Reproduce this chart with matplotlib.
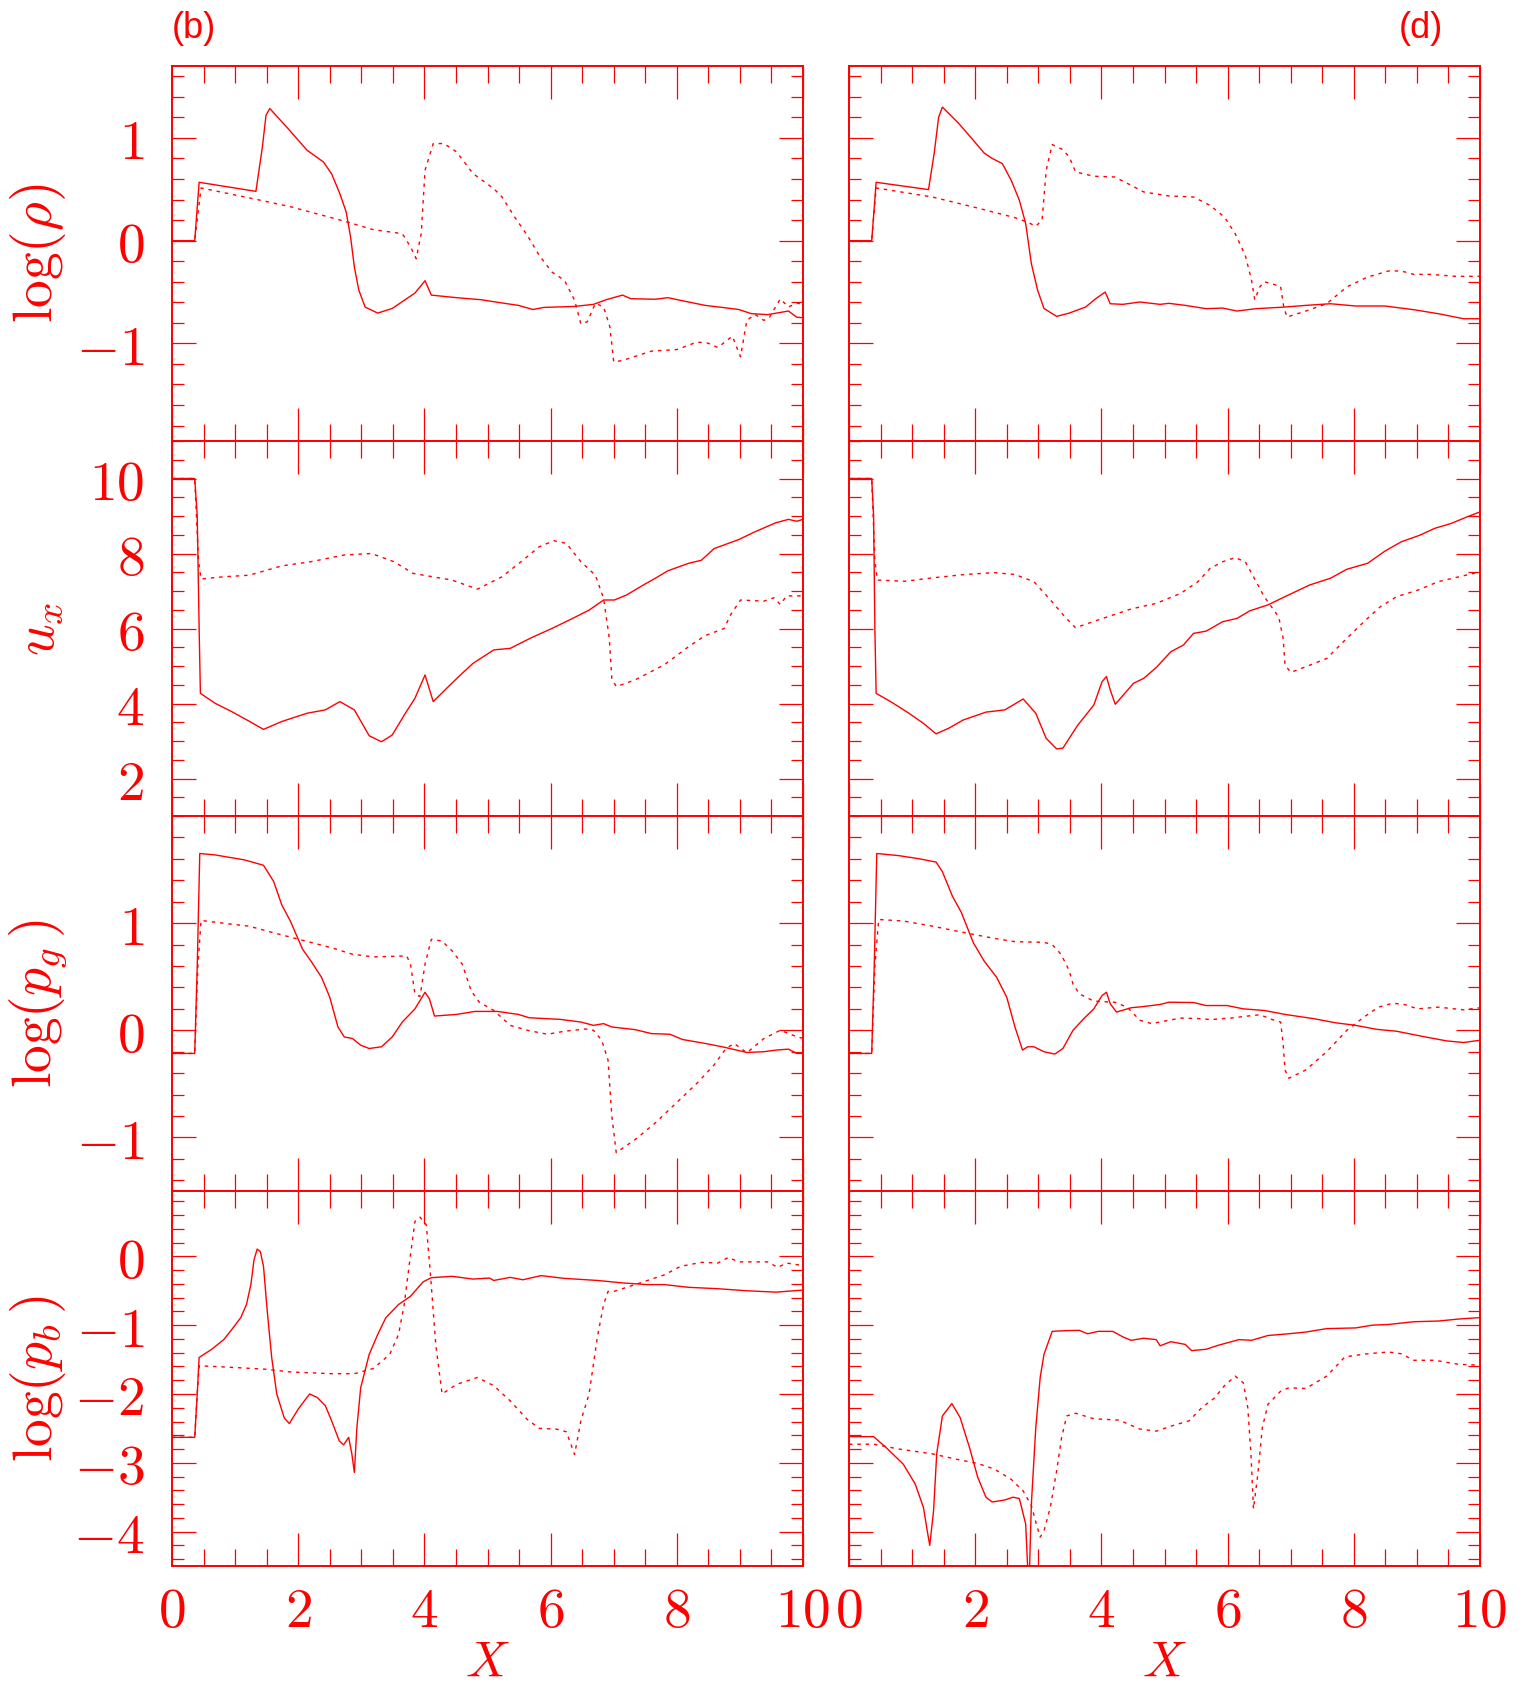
import matplotlib
matplotlib.use("Agg")
import matplotlib.pyplot as plt
from matplotlib.ticker import FixedLocator, MultipleLocator, FuncFormatter

plt.rcParams['mathtext.fontset'] = 'cm'
plt.rcParams['font.family'] = ['DejaVu Serif']

RED = '#ff0000'

# ---------------- data (x, value) pairs ----------------
# Row 1: log(rho)
rho_b_solid = [(0,0),(0.36,0),(0.43,0.568),(1.33,0.48),(1.43,0.9),(1.49,1.22),(1.55,1.286),(1.84,1.09),(2.14,0.88),(2.40,0.766),(2.53,0.65),(2.66,0.458),(2.76,0.28),(2.83,0.036),(2.89,-0.256),(2.96,-0.48),(3.06,-0.646),(3.26,-0.705),(3.49,-0.66),(3.85,-0.51),(4.01,-0.39),(4.11,-0.53),(4.51,-0.555),(4.90,-0.575),(5.16,-0.60),(5.49,-0.63),(5.72,-0.67),(5.89,-0.65),(6.38,-0.64),(6.68,-0.62),(6.88,-0.575),(7.14,-0.53),(7.27,-0.565),(7.66,-0.57),(7.86,-0.555),(8.05,-0.58),(8.45,-0.63),(8.72,-0.65),(8.98,-0.67),(9.18,-0.71),(9.44,-0.72),(9.77,-0.685),(9.90,-0.745),(10.0,-0.75)]
rho_b_dot = [(0,0),(0.36,0),(0.46,0.513),(1.35,0.40),(1.88,0.33),(2.73,0.19),(3.19,0.107),(3.65,0.068),(3.78,-0.06),(3.87,-0.175),(3.95,0.07),(4.01,0.685),(4.14,0.945),(4.31,0.945),(4.51,0.864),(4.77,0.653),(5.10,0.506),(5.23,0.425),(5.43,0.23),(5.63,0.052),(5.82,-0.143),(6.02,-0.305),(6.22,-0.386),(6.38,-0.58),(6.48,-0.81),(6.58,-0.79),(6.71,-0.61),(6.84,-0.645),(6.94,-0.84),(7.0,-1.18),(7.14,-1.166),(7.6,-1.075),(8.0,-1.06),(8.32,-0.987),(8.49,-0.997),(8.65,-1.04),(8.88,-0.93),(9.01,-1.13),(9.11,-0.776),(9.24,-0.718),(9.38,-0.776),(9.47,-0.744),(9.64,-0.568),(9.77,-0.646),(9.9,-0.607),(10.0,-0.62)]
rho_d_solid = [(0,0),(0.36,0),(0.43,0.568),(1.26,0.497),(1.35,0.85),(1.42,1.2),(1.48,1.30),(1.74,1.14),(1.97,0.977),(2.14,0.854),(2.27,0.80),(2.43,0.75),(2.57,0.588),(2.70,0.393),(2.80,0.166),(2.89,-0.224),(2.99,-0.484),(3.09,-0.66),(3.29,-0.737),(3.49,-0.705),(3.75,-0.646),(3.91,-0.565),(4.06,-0.50),(4.14,-0.614),(4.34,-0.62),(4.61,-0.597),(4.93,-0.62),(5.07,-0.61),(5.33,-0.63),(5.66,-0.662),(5.92,-0.656),(6.15,-0.685),(6.45,-0.662),(6.91,-0.646),(7.24,-0.63),(7.63,-0.614),(8.03,-0.636),(8.49,-0.636),(8.95,-0.672),(9.34,-0.711),(9.74,-0.76),(10.0,-0.76)]
rho_d_dot = [(0,0),(0.36,0),(0.43,0.513),(1.32,0.425),(1.97,0.328),(2.63,0.224),(2.83,0.18),(2.96,0.14),(3.06,0.2),(3.125,0.685),(3.22,0.935),(3.39,0.886),(3.49,0.815),(3.59,0.669),(3.88,0.627),(4.21,0.62),(4.47,0.539),(4.67,0.474),(5.07,0.435),(5.46,0.425),(5.72,0.344),(5.95,0.23),(6.12,0.068),(6.28,-0.143),(6.38,-0.386),(6.43,-0.575),(6.51,-0.45),(6.58,-0.40),(6.84,-0.445),(6.89,-0.646),(6.94,-0.743),(7.24,-0.685),(7.57,-0.614),(7.89,-0.45),(8.22,-0.354),(8.55,-0.295),(8.75,-0.295),(8.95,-0.328),(9.21,-0.328),(9.61,-0.347),(10.0,-0.347)]

# Row 2: u_x
ux_b_solid = [(0,10),(0.36,10),(0.40,9.0),(0.43,6.0),(0.45,4.27),(0.69,4.0),(0.95,3.78),(1.22,3.53),(1.45,3.31),(1.74,3.52),(2.14,3.74),(2.43,3.83),(2.66,4.05),(2.89,3.83),(3.125,3.14),(3.32,2.98),(3.49,3.16),(3.68,3.69),(3.85,4.14),(4.01,4.76),(4.14,4.05),(4.38,4.45),(4.57,4.76),(4.77,5.07),(5.10,5.43),(5.36,5.47),(5.69,5.75),(6.02,6.0),(6.35,6.27),(6.61,6.49),(6.84,6.76),(7.01,6.76),(7.2,6.89),(7.47,7.16),(7.66,7.34),(7.86,7.54),(8.19,7.74),(8.39,7.82),(8.59,8.13),(8.98,8.37),(9.24,8.58),(9.57,8.82),(9.77,8.91),(9.9,8.86),(10.0,8.91)]
ux_b_dot = [(0,10),(0.36,10),(0.42,7.8),(0.46,7.32),(0.82,7.38),(1.22,7.42),(1.74,7.67),(2.2,7.78),(2.73,7.96),(3.16,8.0),(3.52,7.78),(3.82,7.47),(4.44,7.29),(4.84,7.05),(5.23,7.38),(5.56,7.82),(5.82,8.18),(6.05,8.34),(6.25,8.27),(6.48,7.78),(6.71,7.42),(6.84,6.8),(6.93,5.74),(6.97,4.67),(7.04,4.45),(7.34,4.63),(7.8,5.03),(8.19,5.52),(8.45,5.81),(8.75,6.0),(8.85,6.36),(9.01,6.76),(9.38,6.73),(9.54,6.82),(9.64,6.64),(9.74,6.87),(10.0,6.87)]
ux_d_solid = [(0,10),(0.36,10),(0.39,9.0),(0.41,6.0),(0.43,4.27),(0.66,4.05),(0.95,3.74),(1.18,3.47),(1.38,3.19),(1.58,3.34),(1.81,3.56),(2.17,3.77),(2.47,3.83),(2.76,4.12),(2.96,3.74),(3.125,3.07),(3.29,2.79),(3.39,2.81),(3.62,3.41),(3.88,3.96),(4.01,4.58),(4.08,4.72),(4.14,4.36),(4.22,3.98),(4.51,4.54),(4.67,4.67),(4.87,4.96),(5.1,5.38),(5.3,5.56),(5.46,5.87),(5.66,5.93),(5.92,6.18),(6.15,6.27),(6.35,6.47),(6.64,6.63),(6.91,6.85),(7.3,7.16),(7.63,7.34),(7.89,7.58),(8.22,7.74),(8.49,8.06),(8.75,8.31),(9.05,8.49),(9.28,8.67),(9.54,8.8),(9.8,8.98),(10.0,9.11)]
ux_d_dot = [(0,10),(0.36,10),(0.41,7.8),(0.45,7.29),(0.89,7.26),(1.32,7.35),(1.84,7.44),(2.3,7.49),(2.63,7.44),(2.93,7.25),(3.22,6.71),(3.42,6.31),(3.59,6.02),(3.95,6.23),(4.47,6.52),(4.87,6.67),(5.26,6.94),(5.53,7.25),(5.72,7.6),(5.92,7.78),(6.12,7.89),(6.28,7.78),(6.41,7.38),(6.58,6.85),(6.81,6.31),(6.88,5.74),(6.91,5.03),(7.0,4.83),(7.24,4.98),(7.57,5.2),(7.89,5.74),(8.16,6.18),(8.42,6.58),(8.68,6.85),(9.01,7.02),(9.34,7.25),(9.67,7.38),(10.0,7.51)]

# Row 3: log(p_g)
pg_b_solid = [(0,-0.216),(0.36,-0.216),(0.40,0.6),(0.44,1.65),(0.69,1.636),(1.15,1.59),(1.45,1.54),(1.61,1.39),(1.74,1.17),(1.875,1.02),(2.07,0.756),(2.2,0.648),(2.37,0.494),(2.5,0.309),(2.63,0.031),(2.73,-0.062),(2.86,-0.077),(2.99,-0.139),(3.125,-0.17),(3.32,-0.154),(3.49,-0.062),(3.65,0.077),(3.85,0.2),(4.01,0.355),(4.08,0.293),(4.16,0.133),(4.51,0.148),(4.8,0.176),(5.16,0.176),(5.49,0.148),(5.66,0.117),(6.15,0.102),(6.48,0.077),(6.68,0.046),(6.84,0.062),(6.97,0.031),(7.34,0.006),(7.6,-0.031),(7.89,-0.037),(8.09,-0.086),(8.45,-0.123),(8.72,-0.154),(9.11,-0.207),(9.38,-0.2),(9.57,-0.185),(9.77,-0.176),(9.9,-0.216),(10.0,-0.216)]
pg_b_dot = [(0,-0.216),(0.36,-0.216),(0.41,0.6),(0.46,1.025),(0.89,0.994),(1.22,0.972),(1.61,0.91),(2.07,0.84),(2.53,0.77),(2.86,0.71),(3.19,0.685),(3.72,0.694),(3.78,0.617),(3.85,0.34),(3.93,0.315),(4.01,0.617),(4.11,0.849),(4.28,0.833),(4.44,0.74),(4.6,0.617),(4.74,0.37),(4.87,0.262),(5.1,0.185),(5.36,0.046),(5.63,0.0),(5.95,-0.037),(6.22,-0.009),(6.55,0.012),(6.68,0.0),(6.81,-0.093),(6.91,-0.278),(6.97,-0.8),(7.04,-1.142),(7.34,-1.02),(7.66,-0.864),(7.99,-0.679),(8.32,-0.494),(8.59,-0.324),(8.78,-0.17),(8.91,-0.123),(9.11,-0.21),(9.38,-0.077),(9.64,0.0),(9.84,-0.046),(10.0,-0.077)]
pg_d_solid = [(0,-0.216),(0.36,-0.216),(0.40,0.6),(0.44,1.65),(0.79,1.63),(1.12,1.6),(1.38,1.57),(1.48,1.48),(1.64,1.25),(1.78,1.1),(1.97,0.818),(2.14,0.648),(2.34,0.494),(2.5,0.309),(2.63,0.031),(2.75,-0.185),(2.83,-0.154),(2.93,-0.154),(3.09,-0.2),(3.26,-0.222),(3.39,-0.17),(3.55,0.0),(3.72,0.108),(3.88,0.2),(4.01,0.324),(4.08,0.355),(4.14,0.247),(4.24,0.17),(4.47,0.21),(4.67,0.222),(4.93,0.241),(5.07,0.262),(5.46,0.259),(5.66,0.231),(5.99,0.231),(6.25,0.2),(6.58,0.185),(6.91,0.148),(7.37,0.108),(7.7,0.071),(8.03,0.046),(8.36,0.009),(8.68,-0.009),(9.08,-0.056),(9.47,-0.099),(9.74,-0.114),(10.0,-0.093)]
pg_d_dot = [(0,-0.216),(0.36,-0.216),(0.41,0.6),(0.47,1.034),(0.86,1.02),(1.32,0.972),(1.84,0.91),(2.3,0.858),(2.63,0.827),(3.09,0.821),(3.22,0.8),(3.36,0.71),(3.49,0.556),(3.55,0.432),(3.65,0.34),(3.88,0.272),(4.21,0.262),(4.41,0.216),(4.61,0.093),(4.8,0.062),(5.0,0.086),(5.26,0.114),(5.59,0.108),(5.72,0.1),(6.05,0.114),(6.32,0.133),(6.51,0.145),(6.71,0.1),(6.84,0.077),(6.88,-0.123),(6.91,-0.37),(6.97,-0.448),(7.24,-0.37),(7.57,-0.2),(7.89,0.0),(8.16,0.123),(8.39,0.216),(8.62,0.253),(8.82,0.238),(9.01,0.2),(9.34,0.216),(9.74,0.191),(10.0,0.21)]

# Row 4: log(p_b)
pb_b_solid = [(0,-2.63),(0.36,-2.63),(0.40,-2.0),(0.43,-1.47),(0.63,-1.35),(0.82,-1.21),(0.95,-1.06),(1.09,-0.89),(1.18,-0.70),(1.25,-0.41),(1.3,-0.05),(1.35,0.106),(1.4,0.07),(1.45,-0.145),(1.51,-0.8),(1.58,-1.47),(1.66,-2.0),(1.78,-2.35),(1.86,-2.43),(2.0,-2.22),(2.18,-2.0),(2.3,-2.05),(2.43,-2.17),(2.53,-2.39),(2.65,-2.68),(2.72,-2.74),(2.8,-2.63),(2.85,-2.87),(2.89,-3.14),(2.93,-2.49),(2.99,-1.91),(3.125,-1.425),(3.26,-1.135),(3.39,-0.89),(3.59,-0.70),(3.78,-0.58),(3.98,-0.37),(4.11,-0.31),(4.44,-0.29),(4.77,-0.33),(5.03,-0.315),(5.1,-0.35),(5.36,-0.305),(5.56,-0.34),(5.85,-0.28),(6.22,-0.32),(6.74,-0.35),(7.14,-0.386),(7.53,-0.41),(7.8,-0.41),(8.19,-0.45),(8.65,-0.47),(9.11,-0.50),(9.57,-0.52),(10.0,-0.49)]
pb_b_dot = [(0,-2.63),(0.36,-2.63),(0.40,-2.0),(0.43,-1.59),(0.89,-1.61),(1.48,-1.64),(1.875,-1.68),(2.53,-1.705),(2.89,-1.705),(3.19,-1.63),(3.45,-1.425),(3.59,-1.135),(3.68,-0.70),(3.78,0.024),(3.85,0.507),(3.93,0.57),(4.03,0.46),(4.1,-0.31),(4.18,-1.28),(4.28,-2.0),(4.51,-1.86),(4.84,-1.76),(5.1,-1.88),(5.36,-2.1),(5.63,-2.37),(5.82,-2.5),(6.09,-2.51),(6.25,-2.55),(6.38,-2.88),(6.48,-2.39),(6.61,-2.0),(6.74,-1.18),(6.84,-0.70),(6.91,-0.51),(7.0,-0.51),(7.14,-0.47),(7.47,-0.37),(7.8,-0.27),(8.06,-0.145),(8.39,-0.087),(8.65,-0.097),(8.82,-0.015),(8.98,-0.08),(9.44,-0.08),(9.6,-0.16),(9.74,-0.097),(10.0,-0.135)]
pb_d_solid = [(0,-2.62),(0.39,-2.62),(0.59,-2.78),(0.86,-3.02),(1.05,-3.31),(1.18,-3.65),(1.24,-3.99),(1.28,-4.2),(1.34,-3.7),(1.39,-2.87),(1.48,-2.32),(1.63,-2.14),(1.76,-2.34),(1.91,-2.78),(2.04,-3.21),(2.17,-3.5),(2.27,-3.57),(2.47,-3.54),(2.6,-3.5),(2.7,-3.52),(2.8,-3.89),(2.85,-4.9),(2.89,-3.6),(2.96,-2.49),(3.03,-1.76),(3.09,-1.425),(3.22,-1.09),(3.42,-1.08),(3.65,-1.075),(3.78,-1.125),(3.95,-1.09),(4.18,-1.09),(4.34,-1.17),(4.47,-1.22),(4.67,-1.19),(4.87,-1.21),(4.93,-1.3),(5.1,-1.24),(5.33,-1.28),(5.43,-1.37),(5.66,-1.35),(5.86,-1.29),(6.18,-1.21),(6.38,-1.22),(6.64,-1.15),(6.97,-1.125),(7.24,-1.1),(7.57,-1.05),(8.03,-1.04),(8.29,-1.0),(8.55,-0.99),(8.95,-0.95),(9.34,-0.94),(9.67,-0.91),(10.0,-0.89)]
pb_d_dot = [(0,-2.73),(0.39,-2.73),(0.79,-2.8),(1.32,-2.87),(1.71,-2.95),(2.04,-3.01),(2.3,-3.09),(2.57,-3.24),(2.76,-3.41),(2.89,-3.62),(2.96,-3.86),(3.03,-4.08),(3.09,-3.99),(3.19,-3.65),(3.29,-3.12),(3.37,-2.63),(3.45,-2.32),(3.59,-2.28),(3.88,-2.36),(4.28,-2.38),(4.61,-2.51),(4.87,-2.54),(5.13,-2.46),(5.39,-2.39),(5.59,-2.2),(5.79,-2.06),(5.95,-1.88),(6.12,-1.74),(6.25,-1.84),(6.32,-2.2),(6.37,-2.87),(6.41,-3.67),(6.48,-3.16),(6.55,-2.49),(6.64,-2.15),(6.84,-1.96),(6.97,-1.91),(7.24,-1.92),(7.57,-1.74),(7.86,-1.46),(8.22,-1.415),(8.55,-1.39),(8.75,-1.415),(8.95,-1.51),(9.28,-1.51),(9.67,-1.57),(10.0,-1.58)]

row_labels = [r'$\log(\rho)$', r'$u_x$', r'$\log(p_g\,)$', r'$\log(p_b\,)$']
row_ylims = [(-1.95, 1.7), (1.0, 11.0), (-1.5, 2.0), (-4.5, 0.95)]
row_major = [[-1, 0, 1], [2, 4, 6, 8, 10], [-1, 0, 1], [-4, -3, -2, -1, 0]]
row_minor = [0.2, 0.5, 0.2, 0.2]
x_ticks = [0, 2, 4, 6, 8, 10]
panel_titles = ['(b)', '(d)']

curves = [
    [(rho_b_solid, rho_b_dot), (rho_d_solid, rho_d_dot)],
    [(ux_b_solid, ux_b_dot), (ux_d_solid, ux_d_dot)],
    [(pg_b_solid, pg_b_dot), (pg_d_solid, pg_d_dot)],
    [(pb_b_solid, pb_b_dot), (pb_d_solid, pb_d_dot)],
]

# ---------------- layout ----------------
W, H = 1528, 1684
fig = plt.figure(figsize=(W / 100, H / 100), dpi=100)
col_x = [(172, 803), (849, 1480)]
top_px, bot_px = 66, 1566
row_h = (bot_px - top_px) / 4

fmt = FuncFormatter(lambda v, p: r'$%d$' % round(v))

for r in range(4):
    for c in range(2):
        x0, x1 = col_x[c]
        ytop = top_px + r * row_h
        ax = fig.add_axes([x0 / W, 1 - (ytop + row_h) / H, (x1 - x0) / W, row_h / H])
        solid, dot = curves[r][c]
        sx, sy = zip(*solid)
        dx, dy = zip(*dot)
        ax.plot(sx, sy, color=RED, lw=1.0, solid_joinstyle='round')
        ax.plot(dx, dy, color=RED, lw=1.0, linestyle=(0, (2.5, 3.5)))
        ax.set_xlim(0, 10)
        ax.set_ylim(*row_ylims[r])
        for s in ax.spines.values():
            s.set_color(RED)
            s.set_linewidth(1.4)
        ax.xaxis.set_major_locator(FixedLocator(x_ticks))
        ax.xaxis.set_minor_locator(MultipleLocator(0.5))
        ax.yaxis.set_major_locator(FixedLocator(row_major[r]))
        ax.yaxis.set_minor_locator(MultipleLocator(row_minor[r]))
        ax.tick_params(axis='x', which='major', direction='in', length=24, width=0.9,
                       color=RED, top=True, bottom=True)
        ax.tick_params(axis='x', which='minor', direction='in', length=12, width=0.9,
                       color=RED, top=True, bottom=True)
        ax.tick_params(axis='y', which='major', direction='in', length=17, width=0.9,
                       color=RED, left=True, right=True)
        ax.tick_params(axis='y', which='minor', direction='in', length=8.6, width=0.9,
                       color=RED, left=True, right=True)
        ax.tick_params(axis='both', which='major', labelsize=40, labelcolor=RED)
        ax.tick_params(axis='y', which='major', pad=20)
        ax.tick_params(axis='x', which='major', pad=13)
        ax.xaxis.set_major_formatter(fmt)
        ax.yaxis.set_major_formatter(fmt)
        if c == 1:
            ax.tick_params(axis='y', labelleft=False)
        if r < 3:
            ax.tick_params(axis='x', labelbottom=False)
        else:
            fig.text((x0 + x1) / 2 / W, 1 - 1662 / H, r'$X$', color=RED,
                     fontsize=36, ha='center', va='center')
        if c == 0:
            fig.text(38 / W, 1 - (ytop + row_h / 2) / H, row_labels[r], color=RED,
                     fontsize=40, rotation=90, ha='center', va='center')

fig.text(172 / W, 1 - 28 / H, panel_titles[0], color=RED, fontsize=26,
         family='Liberation Sans', ha='left', va='center')
fig.text(1443 / W, 1 - 28 / H, panel_titles[1], color=RED, fontsize=26,
         family='Liberation Sans', ha='right', va='center')

fig.savefig('out.png', dpi=100, facecolor='white')
